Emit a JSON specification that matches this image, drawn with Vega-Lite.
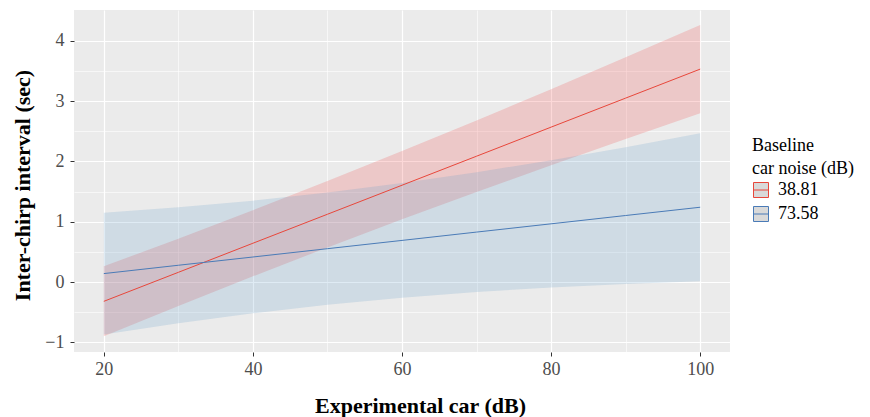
{
  "$schema": "https://vega.github.io/schema/vega-lite/v6.json",
  "width": 656,
  "height": 342,
  "autosize": {"type": "none"},
  "padding": {"left": 74, "top": 10, "right": 140, "bottom": 65},
  "background": "white",
  "config": {
    "view": {"fill": "#EBEBEB", "stroke": null},
    "font": "Liberation Serif",
    "style": {
      "guide-label": {"font": "Liberation Serif"},
      "guide-title": {"font": "Liberation Serif"}
    },
    "legend": {"labelFont": "Liberation Serif", "titleFont": "Liberation Serif"},
    "axis": {
      "gridColor": "white",
      "domain": false,
      "tickColor": "#333333",
      "tickSize": 4,
      "tickWidth": 1,
      "labelColor": "#4d4d4d",
      "labelFont": "Liberation Serif",
      "labelFontSize": 18,
      "titleFont": "Liberation Serif",
      "titleFontSize": 22,
      "titleFontWeight": "bold",
      "titleColor": "black"
    }
  },
  "data": {
    "values": [
      {"group": "38.81", "x": 20, "fit": -0.32, "lower": -0.90, "upper": 0.26},
      {"group": "38.81", "x": 30, "fit": 0.161, "lower": -0.396, "upper": 0.719},
      {"group": "38.81", "x": 40, "fit": 0.643, "lower": 0.095, "upper": 1.190},
      {"group": "38.81", "x": 50, "fit": 1.124, "lower": 0.574, "upper": 1.674},
      {"group": "38.81", "x": 60, "fit": 1.605, "lower": 1.039, "upper": 2.171},
      {"group": "38.81", "x": 70, "fit": 2.086, "lower": 1.493, "upper": 2.679},
      {"group": "38.81", "x": 80, "fit": 2.568, "lower": 1.937, "upper": 3.198},
      {"group": "38.81", "x": 90, "fit": 3.049, "lower": 2.372, "upper": 3.726},
      {"group": "38.81", "x": 100, "fit": 3.53, "lower": 2.80, "upper": 4.26},
      {"group": "73.58", "x": 20, "fit": 0.14, "lower": -0.87, "upper": 1.15},
      {"group": "73.58", "x": 30, "fit": 0.278, "lower": -0.684, "upper": 1.239},
      {"group": "73.58", "x": 40, "fit": 0.415, "lower": -0.519, "upper": 1.349},
      {"group": "73.58", "x": 50, "fit": 0.553, "lower": -0.378, "upper": 1.483},
      {"group": "73.58", "x": 60, "fit": 0.69, "lower": -0.26, "upper": 1.64},
      {"group": "73.58", "x": 70, "fit": 0.828, "lower": -0.165, "upper": 1.82},
      {"group": "73.58", "x": 80, "fit": 0.965, "lower": -0.09, "upper": 2.02},
      {"group": "73.58", "x": 90, "fit": 1.103, "lower": -0.031, "upper": 2.236},
      {"group": "73.58", "x": 100, "fit": 1.24, "lower": 0.015, "upper": 2.465}
    ]
  },
  "layer": [
    {
      "mark": {"type": "area", "opacity": 0.2},
      "encoding": {
        "x": {
          "field": "x", "type": "quantitative",
          "scale": {"domain": [16, 104], "nice": false, "zero": false},
          "axis": {"orient": "bottom", "values": [30, 50, 70, 90], "grid": true, "gridWidth": 0.6, "labels": false, "ticks": false, "domain": false, "title": null}
        },
        "y": {
          "field": "lower", "type": "quantitative",
          "scale": {"domain": [-1.16, 4.51], "nice": false, "zero": false},
          "axis": {"orient": "left", "values": [-0.5, 0.5, 1.5, 2.5, 3.5], "grid": true, "gridWidth": 0.6, "labels": false, "ticks": false, "domain": false, "title": null}
        },
        "y2": {"field": "upper"},
        "fill": {"field": "group", "type": "nominal",
          "scale": {"range": ["#F03C3C", "#5F9BC8"]},
          "legend": null}
      }
    },
    {
      "mark": {"type": "line", "strokeWidth": 1},
      "encoding": {
        "x": {
          "field": "x", "type": "quantitative",
          "axis": {"orient": "bottom", "values": [20, 40, 60, 80, 100], "grid": true, "gridWidth": 1.2,
            "labelPadding": 4, "title": "Experimental car (dB)", "titleX": 346, "titleY": 60, "titleBaseline": "alphabetic", "titleAlign": "center"}
        },
        "y": {
          "field": "fit", "type": "quantitative",
          "axis": {"orient": "left", "values": [-1, 0, 1, 2, 3, 4], "grid": true, "gridWidth": 1.2,
            "labelPadding": 6, "title": "Inter-chirp interval (sec)", "titleX": -45, "titleY": 175, "titleBaseline": "alphabetic", "titleAlign": "center", "titleAngle": 270}
        },
        "stroke": {
          "field": "group", "type": "nominal",
          "scale": {"domain": ["38.81", "73.58"], "range": ["#E8473B", "#4A7BB7"]},
          "legend": {
            "orient": "none", "legendX": 678, "legendY": 127,
            "title": ["Baseline", "car noise (dB)"],
            "titleFont": "Liberation Serif", "titleFontSize": 18, "titleFontWeight": "normal", "titleColor": "black", "titleLineHeight": 23, "titlePadding": 3,
            "labelFont": "Liberation Serif", "labelFontSize": 18, "labelColor": "black", "labelOffset": 8,
            "symbolType": "M-1,-1H1V1H-1Z M-1,0H1",
            "symbolSize": 225, "symbolStrokeWidth": 1, "rowPadding": 4,
            "encode": {"symbols": {"update": {"fill": {"value": "#d9d9d9"}, "opacity": {"value": 1}}},
                       "labels": {"update": {"font": {"value": "Liberation Serif"}}},
                       "title": {"update": {"font": {"value": "Liberation Serif"}}}}
          }
        }
      }
    }
  ],
  "resolve": {"axis": {"x": "independent", "y": "independent"}}
}
